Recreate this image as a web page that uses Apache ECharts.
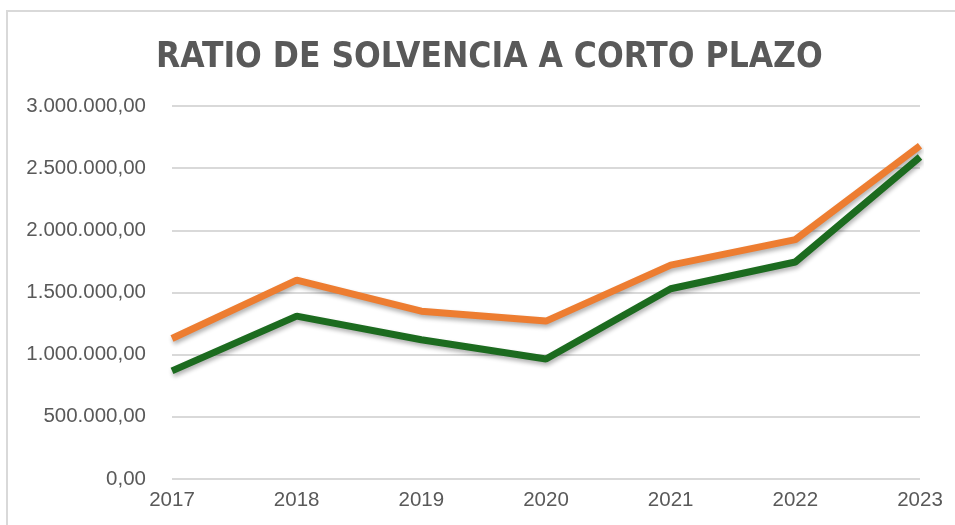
<!DOCTYPE html>
<html>
<head>
<meta charset="utf-8">
<script src="https://cdn.jsdelivr.net/npm/echarts@6/dist/echarts.min.js"></script>
<style>
  html, body { margin: 0; padding: 0; background: #fff; }
  #chart { width: 955px; height: 525px; }
</style>
</head>
<body>
<div id="chart"></div>
<script>
// years on the x axis
const years = ['2017', '2018', '2019', '2020', '2021', '2022', '2023'];
// values
const orangeValues = [1130000, 1600000, 1350000, 1270000, 1720000, 1925000, 2680000];
const greenValues = [870000, 1310000, 1120000, 965000, 1530000, 1745000, 2590000];

const chart = echarts.init(document.getElementById('chart'));

// 3000000 -> "3.000.000,00"
const fmt = (v) => {
  const s = String(Math.round(v)).replace(/\B(?=(\d{3})+(?!\d))/g, '.');
  return s + ',00';
};

const lineSeries = (name, data, color) => ({
  name: name,
  type: 'line',
  data: data,
  symbol: 'none',
  lineStyle: {
    width: 7,
    color: color,
    shadowColor: 'rgba(0,0,0,0.3)',
    shadowBlur: 4,
    shadowOffsetX: 1,
    shadowOffsetY: 3
  },
  itemStyle: { color: color }
});

const option = {
  backgroundColor: '#fff',
  animation: false,
  title: {
    text: 'RATIO DE SOLVENCIA A CORTO PLAZO',
    left: 151,
    top: 35,
    textStyle: {
      fontFamily: "'Liberation Sans Narrow', 'DejaVu Sans Condensed', 'Liberation Sans', sans-serif",
      fontSize: 35,
      fontWeight: 'bold',
      color: '#595959'
    }
  },
  graphic: [{
    type: 'rect',
    shape: { x: 7, y: 11, width: 1000, height: 600 },
    style: { fill: 'none', stroke: '#d9d9d9', lineWidth: 2 },
    silent: true
  }],
  grid: { left: 172, right: 35, top: 106, bottom: 46 },
  xAxis: {
    type: 'category',
    data: years,
    boundaryGap: false,
    axisLine: { show: false },
    axisTick: { show: false },
    axisLabel: {
      margin: 11,
      fontFamily: "'Liberation Sans', Arial, sans-serif",
      fontSize: 20.5,
      color: '#595959'
    }
  },
  yAxis: {
    type: 'value',
    min: 0,
    max: 3000000,
    interval: 500000,
    axisLine: { show: false },
    axisTick: { show: false },
    splitLine: { lineStyle: { color: '#d9d9d9', width: 2 } },
    axisLabel: {
      margin: 26,
      formatter: fmt,
      fontFamily: "'Liberation Sans', Arial, sans-serif",
      fontSize: 20.5,
      color: '#595959'
    }
  },
  series: [
    lineSeries('Serie 1', orangeValues, '#ED7D31'),
    lineSeries('Serie 2', greenValues, '#1C6B1F')
  ]
};

chart.setOption(option);
</script>
</body>
</html>
